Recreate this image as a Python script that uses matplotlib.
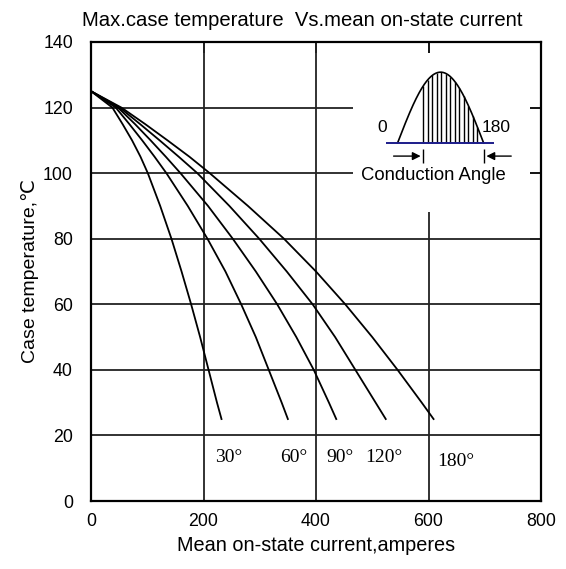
import numpy as np
import matplotlib
matplotlib.use("Agg")
import matplotlib.pyplot as plt

# case temperature levels (degC) at which the curves were read
temps = [125, 120, 115, 110, 105, 100, 90, 80, 70, 60, 50, 40, 30, 25]

# mean on-state current (A) for each conduction angle
cur_30 = [0, 38, 56, 73, 88, 101, 123, 143, 161, 178, 194, 209, 224, 232]
cur_60 = [0, 44, 68, 91, 113, 134, 172, 207, 239, 267, 293, 316, 339, 350]
cur_90 = [0, 48, 78, 106, 133, 159, 208, 252, 293, 331, 365, 396, 423, 436]
cur_120 = [0, 51, 87, 122, 156, 189, 246, 299, 348, 394, 434, 470, 506, 524]
cur_180 = [0, 54, 96, 136, 175, 211, 279, 343, 400, 452, 500, 545, 588, 609]

angle_labels = ["30°", "60°", "90°", "120°", "180°"]
label_x = [244, 360, 442, 520, 648]
label_y = [13.4, 13.4, 13.4, 13.4, 12.2]

xticks = [0, 200, 400, 600, 800]
yticks = [0, 20, 40, 60, 80, 100, 120, 140]

sans = ["Liberation Sans", "DejaVu Sans"]
serif = ["Liberation Serif", "DejaVu Serif"]
plt.rcParams["font.family"] = sans

fig = plt.figure(figsize=(5.66, 5.69), dpi=100)
ax = fig.add_axes([91/566, 1-501/569, 450/566, 459/569])
ax.set_xlim(0, 800)
ax.set_ylim(0, 140)

# grid, drawn piecewise like the original sheet
ax.hlines([20, 40, 60, 80], 0, 800, color="#222222", lw=1.3)
ax.hlines([100, 120], 0, 465, color="#222222", lw=1.3)
ax.vlines([200, 400], 0, 140, color="#222222", lw=1.3)
ax.vlines([600], 0, 88, color="#222222", lw=1.3)

for cur in [cur_30, cur_60, cur_90, cur_120, cur_180]:
    ax.plot(cur, temps, color="black", lw=1.3)

for lab, lx, ly in zip(angle_labels, label_x, label_y):
    ax.text(lx, ly, lab, family=serif, fontsize=14, ha="center", va="center")

# inset: half sine wave with conduction angle
xs = np.linspace(545, 698, 200)
ys = 109.2 + 21.6*np.sin(np.pi*(xs-545)/(698-545))
ax.plot(xs, ys, color="black", lw=1.2)
for hx in np.arange(591, 690, 8):
    ax.vlines(hx, 109.2, 109.2 + 21.6*np.sin(np.pi*(hx-545)/(698-545)), color="black", lw=1.0)
ax.hlines(109.2, 524, 716, color="#1c1c8a", lw=1.4)
ax.text(518, 114, "0", fontsize=12.5, ha="center", va="center")
ax.text(721, 114, "180", fontsize=12.5, ha="center", va="center")
ax.annotate("", xy=(591, 105.2), xytext=(533, 105.2),
            arrowprops=dict(arrowstyle="-|>", color="black", lw=1.0, mutation_scale=12))
ax.annotate("", xy=(698, 105.2), xytext=(752, 105.2),
            arrowprops=dict(arrowstyle="-|>", color="black", lw=1.0, mutation_scale=12))
ax.vlines([591, 698], 103, 107.5, color="black", lw=1.0)
ax.text(609, 99.4, "Conduction Angle", fontsize=13.3, ha="center", va="center")

ax.set_xticks(xticks)
ax.set_yticks(yticks)
ax.tick_params(axis="x", bottom=False, top=True, direction="in", length=8, width=1.3,
               labelsize=12.8, pad=9)
ax.tick_params(axis="y", left=False, right=True, direction="in", length=8, width=1.3,
               labelsize=12.8, pad=13)
for s in ax.spines.values():
    s.set_linewidth(1.6)

ax.set_xlabel("Mean on-state current,amperes", fontsize=14.3, labelpad=4)
ax.set_ylabel("Case temperature,℃", fontsize=14, labelpad=3)
fig.text(302/566, 1-21/569, "Max.case temperature  Vs.mean on-state current",
         fontsize=14.6, ha="center", va="center")

fig.savefig("out.png", dpi=100)
